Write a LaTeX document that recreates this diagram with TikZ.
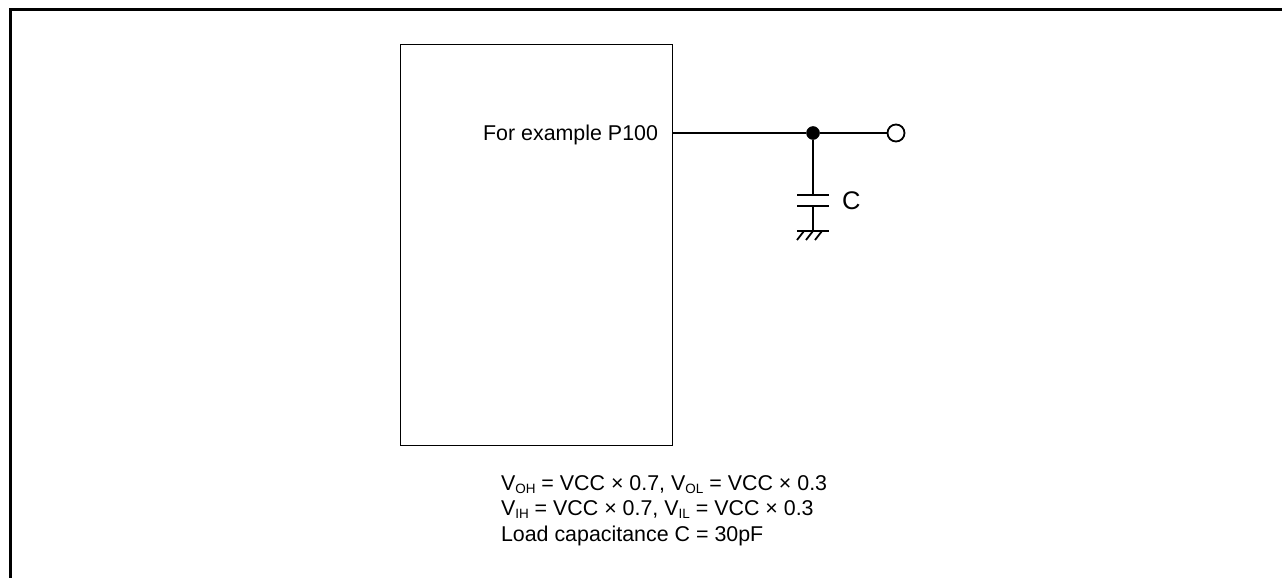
\documentclass[tikz,border=0pt]{standalone}
\usepackage{fontspec}
\setmainfont{Liberation Sans}
\tikzset{
 wire/.style={line width=1.8pt,black},
 lbl/.style={inner sep=0pt,outer sep=0pt,font=\fontsize{21.4}{24}\selectfont,text=black},
 dot/.style={circle,fill=black,draw=black,line width=0.5pt,minimum size=13pt,inner sep=0pt},
 term/.style={circle,fill=white,draw=black,line width=1.8pt,minimum size=17pt,inner sep=0pt}
}
\newcommand{\lowsub}[1]{\raisebox{-3pt}{\fontsize{13.5}{14}\selectfont #1}}
\begin{document}
\begin{tikzpicture}[x=1pt,y=-1pt]
\useasboundingbox (0,0) rectangle (1282,578);
\draw[line width=3pt] (10.5,578) -- (10.5,9.5) -- (1282,9.5);
\node[draw,wire,line width=1.5pt,minimum width=272pt,minimum height=401pt,anchor=north west,inner sep=0pt,outer sep=0pt] (box) at (400.7,44.7) {};
\node[lbl,anchor=base east] (pin) at (658,140) {For example P100};
\node[dot] (j) at (813,133) {};
\node[term] (t) at (896,133) {};
\coordinate (wstart) at (box.east |- j);
\draw[wire] (wstart) -- (j) -- (t);
\coordinate (captop) at (813,195);
\coordinate (capbot) at (813,206);
\coordinate (gnd) at (813,231);
\draw[wire] (j) -- (captop);
\draw[wire] (797,195) -- (829,195);
\draw[wire] (797,206) -- (829,206);
\draw[wire] (capbot) -- (gnd);
\draw[wire] (797,231) -- (829,231);
\draw[wire] (804,231) -- (797,240);
\draw[wire] (813,231) -- (806,240);
\draw[wire] (822,231) -- (815,240);
\node[lbl,anchor=base west,font=\fontsize{25.5}{27}\selectfont] (c) at (842,209) {C};
\node[lbl,anchor=base west] (l1) at (501,490) {V\lowsub{OH} = VCC × 0.7, V\lowsub{OL} = VCC × 0.3};
\node[lbl,anchor=base west] (l2) at (501,515.5) {V\lowsub{IH} = VCC × 0.7, V\lowsub{IL} = VCC × 0.3};
\node[lbl,anchor=base west] (l3) at (501,541) {Load capacitance C = 30pF};
\end{tikzpicture}
\end{document}
